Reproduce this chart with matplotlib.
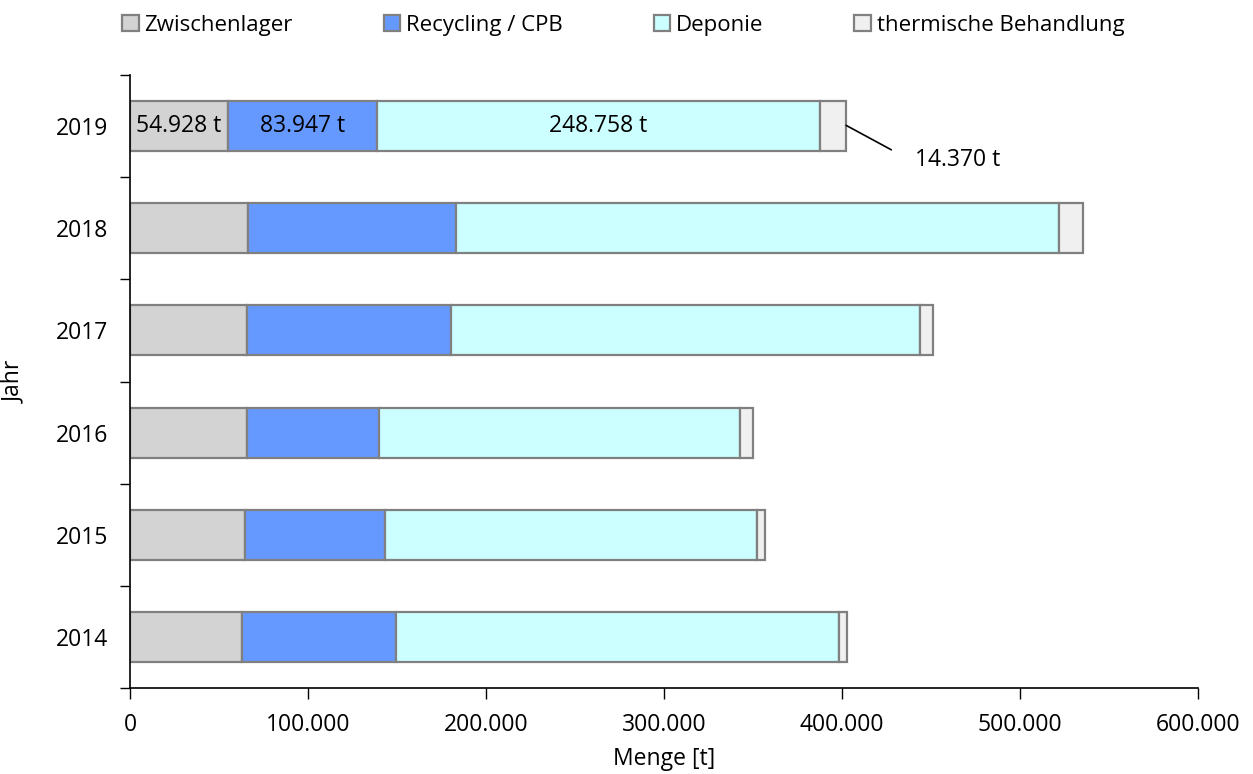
import numpy as np
import matplotlib
matplotlib.use("Agg")
import matplotlib.pyplot as plt
from matplotlib.ticker import FuncFormatter, FixedLocator

plt.rcParams["font.family"] = ["Open Sans", "DejaVu Sans"]

years = ["2014", "2015", "2016", "2017", "2018", "2019"]
zwischenlager = [63070, 64530, 65650, 65650, 66050, 54928]
recycling = [86340, 78920, 74200, 114900, 116910, 83947]
deponie = [249010, 208540, 202750, 263230, 339120, 248758]
thermisch = [4490, 4660, 7480, 7470, 13490, 14370]

series = [
    ("Zwischenlager", zwischenlager, "#D3D3D3"),
    ("Recycling / CPB", recycling, "#6699FF"),
    ("Deponie", deponie, "#CCFFFF"),
    ("thermische Behandlung", thermisch, "#F0F0F0"),
]

FS = 16.5


def de_num(v):
    return f"{v:,.0f}".replace(",", ".")


fig = plt.figure(figsize=(12.53, 7.74), dpi=100)
ax = fig.add_axes([130 / 1253, 1 - 688 / 774, 1068 / 1253, 613 / 774])

y = np.arange(len(years))
left = np.zeros(len(years))
for name, vals, color in series:
    ax.barh(y, vals, left=left, height=0.49, color=color,
            edgecolor="#808080", linewidth=1.6, label=name)
    left += np.array(vals)

# value labels for 2019
last = len(years) - 1
lefts = [0, zwischenlager[last], zwischenlager[last] + recycling[last]]
for (name, vals, color), l0 in zip(series[:3], lefts):
    ax.text(l0 + vals[last] / 2, y[last], f"{de_num(vals[last])} t",
            ha="center", va="center", fontsize=FS)

# leader line + label for the small segment
tot = left[last]
ax.plot([tot, tot + 26000], [y[last] + 0.01, y[last] - 0.235],
        color="black", lw=1.2, solid_capstyle="butt")
ax.text(tot + 39000, y[last] - 0.33, f"{de_num(thermisch[last])} t",
        ha="left", va="center", fontsize=FS)

ax.set_xlim(0, 600000)
ax.set_ylim(-0.5, len(years) - 0.5)
ax.xaxis.set_major_locator(FixedLocator(np.arange(0, 600001, 100000)))
ax.xaxis.set_major_formatter(FuncFormatter(lambda v, p: de_num(v)))
ax.set_yticks(y)
ax.set_yticklabels(years)
ax.yaxis.set_minor_locator(FixedLocator(np.arange(-0.5, len(years), 1.0)))
ax.tick_params(axis="y", which="major", length=0, pad=16, labelsize=FS)
ax.tick_params(axis="y", which="minor", length=7, width=1, direction="out")
ax.tick_params(axis="x", length=8, width=1, direction="out", labelsize=FS, pad=10)

ax.spines[["top", "right"]].set_visible(False)
ax.spines["left"].set_linewidth(1.2)
ax.spines["bottom"].set_linewidth(1.2)

ax.set_xlabel("Menge [t]", fontsize=FS, labelpad=7)
ax.set_ylabel("Jahr", fontsize=FS, labelpad=21)

fig.legend(loc="upper left", bbox_to_anchor=(113 / 1253, 0.992), ncol=4,
           frameon=False, fontsize=16, handlelength=0.75, handleheight=0.75,
           handletextpad=0.25, columnspacing=4.1, borderaxespad=0)

plt.savefig("out.png", dpi=100)
plt.close()
